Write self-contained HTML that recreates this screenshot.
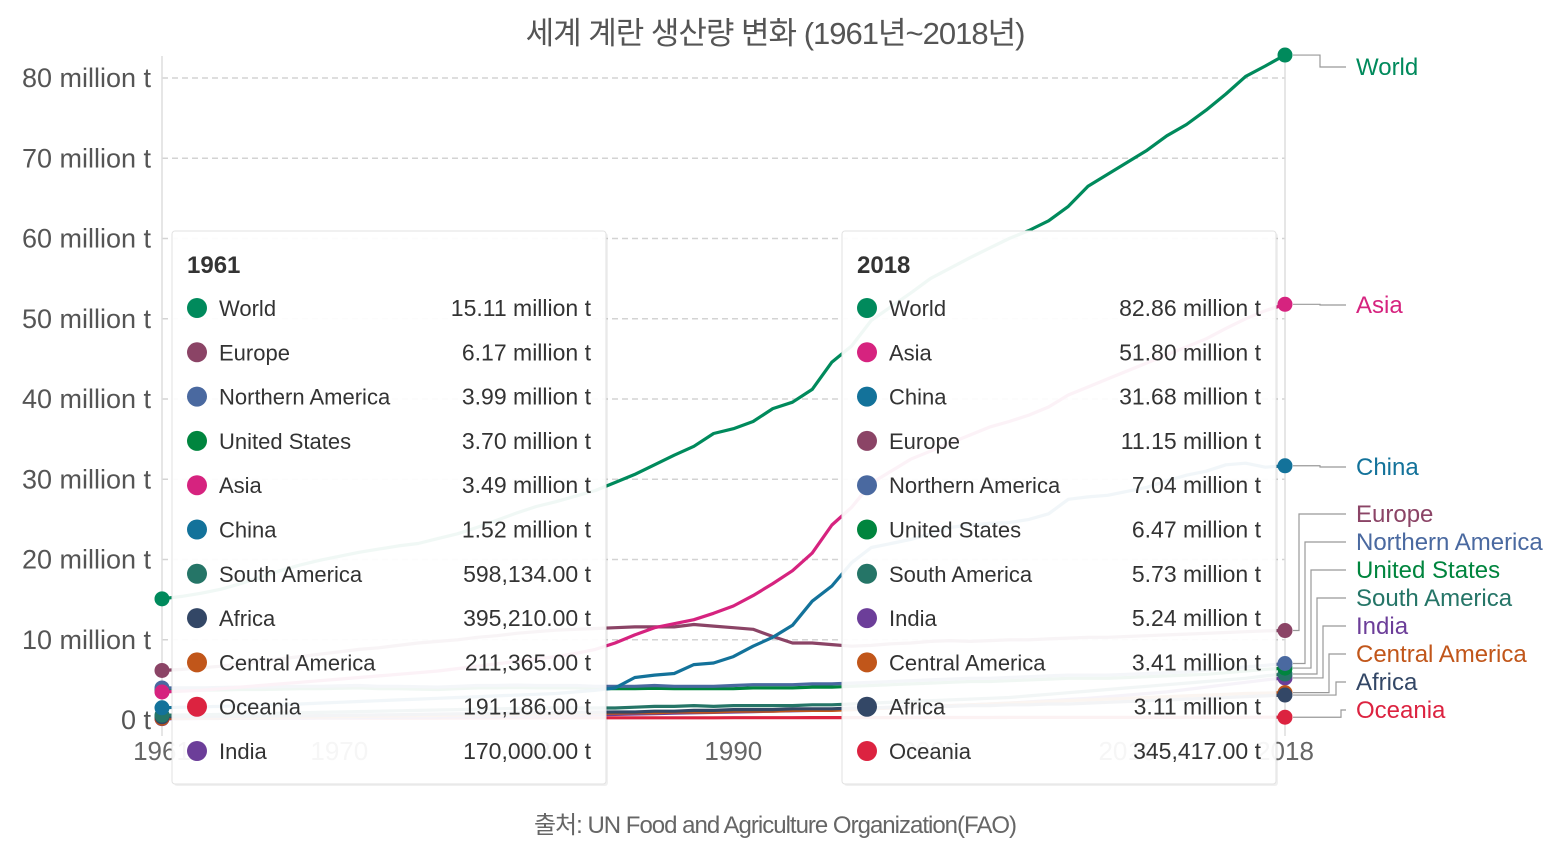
<!DOCTYPE html>
<html><head><meta charset="utf-8">
<style>
html,body{margin:0;padding:0;background:#fff;}
body{width:1550px;height:850px;overflow:hidden;font-family:"Liberation Sans","Noto Sans CJK KR",sans-serif;}
svg text{font-family:"Liberation Sans","Noto Sans CJK KR",sans-serif;}
</style></head>
<body>
<svg id="chart" width="1550" height="850" xmlns="http://www.w3.org/2000/svg">
<text x="775" y="44" text-anchor="middle" font-size="31" fill="#555" letter-spacing="-1">세계 계란 생산량 변화 (1961년~2018년)</text>
<g id="grid"></g>
<g id="series"></g>
<g id="labels"></g>
<g id="tips"></g>
<text x="775" y="833" text-anchor="middle" font-size="24" fill="#666" letter-spacing="-1">출처: UN Food and Agriculture Organization(FAO)</text>
</svg>
<script>
const years = Array.from({length:58},(_,i)=>1961+i);
const world=[15.1,15.4,15.8,16.3,17.0,17.8,18.6,19.3,19.9,20.4,20.9,21.3,21.7,22.0,22.6,23.2,24.0,24.9,25.8,26.6,27.2,27.9,28.6,29.6,30.6,31.8,33.0,34.1,35.7,36.3,37.2,38.8,39.6,41.2,44.6,46.6,49.8,51.5,53.2,55.0,56.3,57.6,58.8,60.0,61.0,62.2,64.0,66.5,68.0,69.5,71.0,72.8,74.2,76.0,78.0,80.2,81.5,82.86];
const asia=[3.49,3.6,3.7,3.9,4.1,4.3,4.5,4.7,4.9,5.1,5.3,5.5,5.7,5.9,6.1,6.4,6.7,7.0,7.3,7.6,7.9,8.3,8.8,9.6,10.6,11.5,12.0,12.5,13.3,14.2,15.5,17.0,18.6,20.8,24.3,26.5,29.5,31.0,32.5,33.5,34.5,35.5,36.5,37.2,38.0,39.0,40.5,41.5,42.5,43.5,44.5,45.5,46.5,47.5,48.8,50.0,51.0,51.8];
const china=[1.52,1.6,1.65,1.7,1.8,1.9,1.95,2.0,2.1,2.2,2.3,2.4,2.5,2.6,2.7,2.8,2.9,3.0,3.1,3.2,3.3,3.5,3.7,4.0,5.3,5.6,5.8,6.9,7.1,7.9,9.2,10.3,11.8,14.8,16.7,19.6,21.5,22.0,22.5,23.2,24.0,24.3,24.5,24.6,25.0,25.7,27.5,27.8,28.0,28.5,29.0,29.8,30.5,31.0,31.8,32.0,31.5,31.68];
const europe=[6.17,6.3,6.5,6.7,7.0,7.3,7.6,7.9,8.2,8.5,8.8,9.0,9.3,9.6,9.8,10.0,10.3,10.5,10.8,11.0,11.2,11.3,11.4,11.5,11.6,11.6,11.6,11.9,11.7,11.5,11.3,10.4,9.6,9.6,9.4,9.2,9.3,9.5,9.6,9.8,9.9,9.8,9.9,10.0,10.0,10.1,10.2,10.3,10.3,10.4,10.5,10.6,10.7,10.8,10.9,11.0,11.1,11.15];
const northAmerica=[3.99,4.0,4.0,4.05,4.1,4.1,4.15,4.2,4.2,4.25,4.3,4.2,4.2,4.15,4.1,4.2,4.3,4.3,4.35,4.3,4.3,4.3,4.2,4.2,4.2,4.3,4.2,4.2,4.2,4.3,4.4,4.4,4.4,4.5,4.5,4.6,4.7,4.8,4.9,5.0,5.1,5.2,5.2,5.3,5.4,5.5,5.6,5.6,5.6,5.7,5.8,5.9,6.0,6.2,6.4,6.6,6.8,7.04];
const unitedStates=[3.70,3.72,3.72,3.75,3.8,3.8,3.85,3.9,3.9,3.95,4.0,3.9,3.9,3.85,3.8,3.9,4.0,4.0,4.05,4.0,4.0,4.0,3.9,3.9,3.9,3.95,3.9,3.9,3.9,3.9,4.0,4.0,4.0,4.1,4.1,4.2,4.3,4.4,4.5,4.6,4.7,4.8,4.8,4.9,5.0,5.1,5.2,5.2,5.2,5.3,5.4,5.5,5.6,5.7,5.9,6.1,6.3,6.47];
const southAmerica=[0.6,0.62,0.65,0.7,0.75,0.8,0.85,0.9,0.95,1.0,1.05,1.1,1.15,1.2,1.25,1.3,1.35,1.4,1.45,1.5,1.5,1.5,1.5,1.5,1.6,1.7,1.7,1.8,1.7,1.8,1.8,1.8,1.8,1.9,1.9,2.0,2.1,2.2,2.3,2.4,2.5,2.6,2.7,2.8,3.0,3.2,3.4,3.6,3.8,4.0,4.2,4.4,4.6,4.8,5.0,5.2,5.5,5.73];
const africa=[0.4,0.41,0.42,0.44,0.46,0.48,0.5,0.52,0.55,0.58,0.6,0.63,0.66,0.7,0.73,0.76,0.8,0.83,0.86,0.9,0.92,0.95,0.98,1.0,1.0,1.1,1.1,1.2,1.2,1.3,1.3,1.3,1.4,1.4,1.4,1.5,1.5,1.6,1.6,1.7,1.7,1.8,1.8,1.9,1.9,2.0,2.0,2.1,2.2,2.3,2.4,2.5,2.6,2.7,2.8,2.9,3.0,3.11];
const centralAmerica=[0.21,0.22,0.24,0.26,0.28,0.3,0.32,0.35,0.38,0.41,0.44,0.47,0.5,0.53,0.56,0.6,0.63,0.66,0.7,0.73,0.76,0.8,0.83,0.86,0.9,0.9,1.0,1.0,1.0,1.1,1.1,1.1,1.2,1.2,1.2,1.3,1.4,1.5,1.6,1.7,1.8,1.9,2.0,2.1,2.2,2.3,2.4,2.5,2.6,2.7,2.8,2.9,3.0,3.1,3.2,3.3,3.35,3.41];
const oceania=[0.19,0.19,0.2,0.2,0.2,0.21,0.21,0.22,0.22,0.23,0.23,0.23,0.24,0.24,0.24,0.25,0.25,0.25,0.26,0.26,0.26,0.27,0.27,0.27,0.27,0.28,0.28,0.28,0.28,0.29,0.29,0.29,0.29,0.3,0.3,0.3,0.3,0.3,0.31,0.31,0.31,0.31,0.31,0.32,0.32,0.32,0.32,0.32,0.33,0.33,0.33,0.33,0.34,0.34,0.34,0.34,0.345,0.345];
const india=[0.17,0.18,0.19,0.2,0.21,0.22,0.23,0.24,0.26,0.28,0.3,0.32,0.34,0.36,0.38,0.4,0.43,0.46,0.5,0.53,0.56,0.6,0.65,0.7,0.75,0.8,0.85,0.9,0.95,1.0,1.05,1.1,1.15,1.2,1.25,1.3,1.4,1.5,1.6,1.7,1.8,1.9,2.0,2.1,2.25,2.4,2.55,2.7,2.9,3.1,3.3,3.5,3.8,4.1,4.4,4.7,5.0,5.24];
const yTicks=[0,10,20,30,40,50,60,70,80];
const yTickLabels=["0 t","10 million t","20 million t","30 million t","40 million t","50 million t","60 million t","70 million t","80 million t"];
const xTicks=[1961,1970,1980,1990,2000,2010,2018];
const tip1961Labels=["World","Europe","Northern America","United States","Asia","China","South America","Africa","Central America","Oceania","India"];
const tip1961Values=["15.11 million t","6.17 million t","3.99 million t","3.70 million t","3.49 million t","1.52 million t","598,134.00 t","395,210.00 t","211,365.00 t","191,186.00 t","170,000.00 t"];
const tip2018Labels=["World","Asia","China","Europe","Northern America","United States","South America","India","Central America","Africa","Oceania"];
const tip2018Values=["82.86 million t","51.80 million t","31.68 million t","11.15 million t","7.04 million t","6.47 million t","5.73 million t","5.24 million t","3.41 million t","3.11 million t","345,417.00 t"];

const seriesDefs=[
 ["Oceania",oceania,"#dc2340"],["India",india,"#6c3e99"],["Central America",centralAmerica,"#c1561a"],
 ["Africa",africa,"#334766"],["South America",southAmerica,"#257567"],["United States",unitedStates,"#00853e"],
 ["Northern America",northAmerica,"#4a69a0"],["Europe",europe,"#8b4466"],["China",china,"#13729a"],
 ["Asia",asia,"#d6237f"],["World",world,"#008a5c"]];
const colorOf={};seriesDefs.forEach(s=>colorOf[s[0]]=s[2]);
const labelY={"World":67,"Asia":305,"China":467,"Europe":514,"Northern America":542,"United States":570,"South America":598,"India":626,"Central America":654,"Africa":682,"Oceania":710};
const elbowX={"World":1320,"Asia":1320,"China":1320,"Europe":1299,"Northern America":1305,"United States":1311,"South America":1317,"India":1323,"Central America":1329,"Africa":1336,"Oceania":1341};

const NS="http://www.w3.org/2000/svg";
const X0=162,X1=1285,Y0=720,Y80=78;
const xs=y=>X0+(y-1961)*(X1-X0)/(2018-1961);
const ys=v=>Y0-v*(Y0-Y80)/80;
function mk(tag,attrs,parent,text){const e=document.createElementNS(NS,tag);for(const k in attrs)e.setAttribute(k,attrs[k]);if(text!==undefined)e.textContent=text;parent.appendChild(e);return e;}

const grid=document.getElementById('grid');
yTicks.forEach((t,i)=>{
 if(t>0){const l=mk('line',{x1:X0,x2:X1,y1:ys(t),y2:ys(t),stroke:'#d3d3d3','stroke-width':1.5,'stroke-dasharray':'6,4'},grid);
 }
 const tx=mk('text',{x:151,y:ys(t)+9,'text-anchor':'end','font-size':27,fill:'#555'},grid,yTickLabels[i]);
 
});
[X0,X1].forEach(x=>{const l=mk('line',{x1:x,x2:x,y1:56,y2:736,stroke:'#ddd','stroke-width':1.5},grid);
 });
xTicks.forEach(t=>{const tx=mk('text',{x:xs(t),y:760,'text-anchor':'middle','font-size':26,fill:'#666'},grid,String(t));
 });

const sg=document.getElementById('series');
seriesDefs.forEach(([name,vals,col])=>{
 const d=vals.map((v,i)=>(i?'L':'M')+xs(years[i]).toFixed(1)+','+ys(v).toFixed(1)).join(' ');
 const p=mk('path',{d:d,fill:'none',stroke:col,'stroke-width':3.2,'stroke-linejoin':'round'},sg);
 
 
});
seriesDefs.forEach(([name,vals,col])=>{
 const c1=mk('circle',{cx:xs(1961),cy:ys(vals[0]),r:7.5,fill:col},sg);
 
 const c2=mk('circle',{cx:xs(2018),cy:ys(vals[vals.length-1]),r:7.5,fill:col},sg);
 
});
const lg=document.getElementById('labels');
seriesDefs.forEach(([name,vals,col])=>{
 const yv=ys(vals[vals.length-1]),ly=labelY[name],ex=elbowX[name];
 const pl=mk('polyline',{points:`${X1+8},${yv} ${ex},${yv} ${ex},${ly} 1346,${ly}`,fill:'none',stroke:'#999','stroke-width':1.2},lg);
 
 const t=mk('text',{x:1356,y:ly+8,'font-size':24,fill:col},lg,name);
 
});

const tg=document.getElementById('tips');
function tooltip(x,title,labels,values){
 const g=mk('g',{},tg);
 
 mk('rect',{x:x+2,y:233,width:434,height:553,fill:'#000',opacity:0.06,rx:3},g);
 const r=mk('rect',{x:x,y:231,width:434,height:553,fill:'#fff','fill-opacity':0.94,stroke:'#e2e2e2','stroke-width':1,rx:3},g);
 
 const tt=mk('text',{x:x+15,y:273,'font-size':24,'font-weight':'bold',fill:'#333'},g,title);
 
 labels.forEach((l,i)=>{
  const y=308+i*44.3;
  const c=mk('circle',{cx:x+25,cy:y,r:10,fill:colorOf[l]},g);
  
  const a=mk('text',{x:x+47,y:y+8,'font-size':22,fill:'#333'},g,l);
  
  const b=mk('text',{x:x+419,y:y+8,'font-size':23,fill:'#333','text-anchor':'end'},g,values[i]);
  
 });
}
tooltip(172,"1961",tip1961Labels,tip1961Values);
tooltip(842,"2018",tip2018Labels,tip2018Values);
</script>
</body></html>
